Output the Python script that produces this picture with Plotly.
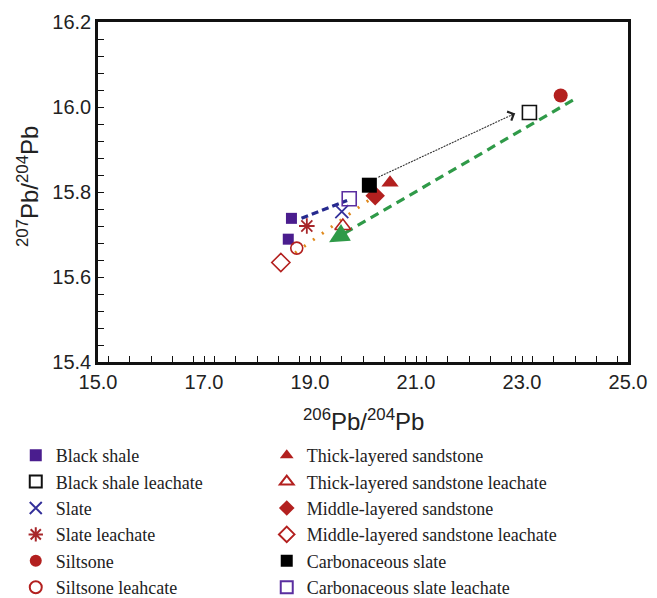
import plotly.graph_objects as go

# ---- data ----
series_names = [
    "Black shale", "Black shale leachate", "Slate", "Slate leachate",
    "Siltsone", "Siltsone leahcate",
    "Thick-layered sandstone", "Thick-layered sandstone leachate",
    "Middle-layered sandstone", "Middle-layered sandstone leachate",
    "Carbonaceous slate", "Carbonaceous slate leachate",
]
x_black_shale = [18.65, 18.59]
y_black_shale = [15.738, 15.689]
x_black_shale_leach = [23.14]
y_black_shale_leach = [15.987]
x_slate = [19.60]
y_slate = [15.754]
x_slate_leach = [18.94]
y_slate_leach = [15.720]
x_siltsone = [23.73]
y_siltsone = [16.027]
x_siltsone_leach = [18.75]
y_siltsone_leach = [15.668]
x_thick = [20.51]
y_thick = [15.822]
x_thick_leach = [19.62]
y_thick_leach = [15.720]
x_middle = [20.23]
y_middle = [15.791]
x_middle_leach = [18.45]
y_middle_leach = [15.634]
x_carb = [20.12]
y_carb = [15.816]
x_carb_leach = [19.74]
y_carb_leach = [15.784]

# trend arrows: (x_start, y_start) -> (x_end, y_end)
arrow_black = [(20.29, 15.835), (22.87, 15.985)]
arrow_green = [(23.96, 16.016), (19.36, 15.682)]
arrow_blue = [(18.84, 15.738), (19.70, 15.780)]
arrow_orange = [(20.10, 15.780), (18.62, 15.648)]

x_range = [15.0, 25.0]
y_range = [15.4, 16.2]
x_ticks = [15.0, 17.0, 19.0, 21.0, 23.0, 25.0]
y_ticks = [15.4, 15.6, 15.8, 16.0, 16.2]
x_title = "<sup>206</sup>Pb/<sup>204</sup>Pb"
y_title = "<sup>207</sup>Pb/<sup>204</sup>Pb"

# ---- styles ----
PURPLE = "#4a1d8e"
BLUE = "#34309a"
RED = "#b3201f"
DRED = "#a8262a"
styles = [
    dict(symbol="square", size=11, color=PURPLE, line=dict(width=0)),
    dict(symbol="square-open", size=14, color="#111111", line=dict(width=1.6, color="#111111")),
    dict(symbol="x-thin-open", size=13, color=BLUE, line=dict(width=1.8, color=BLUE)),
    dict(symbol="asterisk-open", size=13, color=DRED, line=dict(width=1.8, color=DRED)),
    dict(symbol="circle", size=14, color=RED, line=dict(width=0)),
    dict(symbol="circle-open", size=12, color=RED, line=dict(width=1.6, color=RED)),
    dict(symbol="triangle-up", size=15, color=RED, line=dict(width=0)),
    dict(symbol="triangle-up-open", size=14, color=RED, line=dict(width=1.6, color=RED)),
    dict(symbol="diamond", size=15, color=RED, line=dict(width=0)),
    dict(symbol="diamond-open", size=14, color=RED, line=dict(width=1.6, color=RED)),
    dict(symbol="square", size=15, color="#000000", line=dict(width=0)),
    dict(symbol="square-open", size=14, color="#5a2ea0", line=dict(width=1.6, color="#5a2ea0")),
]
xs = [x_black_shale, x_black_shale_leach, x_slate, x_slate_leach, x_siltsone, x_siltsone_leach,
      x_thick, x_thick_leach, x_middle, x_middle_leach, x_carb, x_carb_leach]
ys = [y_black_shale, y_black_shale_leach, y_slate, y_slate_leach, y_siltsone, y_siltsone_leach,
      y_thick, y_thick_leach, y_middle, y_middle_leach, y_carb, y_carb_leach]

fig = go.Figure()

# trend lines (drawn first, under markers)
def add_line(seg, color, width, dash):
    (x0, y0), (x1, y1) = seg
    fig.add_trace(go.Scatter(x=[x0, x1], y=[y0, y1], mode="lines",
                             line=dict(color=color, width=width, dash=dash),
                             showlegend=False, hoverinfo="skip"))

add_line(arrow_green, "#2f9a48", 3.2, "9px,6px")
add_line(arrow_black, "#333333", 1.1, "2px,1px")
add_line(arrow_orange, "#e08a1e", 3, "2px,9px")
add_line(arrow_blue, "#262a8e", 3.2, "7px,4px")

for i, name in enumerate(series_names):
    st = styles[i]
    fig.add_trace(go.Scatter(
        x=xs[i], y=ys[i], mode="markers", name=name,
        marker=dict(symbol=st["symbol"], size=st["size"], color=st["color"], line=st["line"]),
        legend="legend" if i < 6 else "legend2",
        legendgroup=name,
    ))

# arrow heads
def add_head(seg, color, head, size, width):
    (x0, y0), (x1, y1) = seg
    fx = x1 - (x1 - x0) * 0.04
    fy = y1 - (y1 - y0) * 0.04
    fig.add_annotation(x=x1, y=y1, ax=fx, ay=fy, xref="x", yref="y", axref="x", ayref="y",
                       text="", showarrow=True, arrowhead=head, arrowsize=size,
                       arrowwidth=width, arrowcolor=color)

add_head(arrow_black, "#222222", 4, 1.6, 1.2)
add_head(arrow_green, "#2f9a48", 2, 1.3, 3)
add_head(arrow_blue, "#262a8e", 4, 1.0, 2.2)
add_head(arrow_orange, "#e08a1e", 4, 1.0, 2.6)

axis_font = dict(family="Liberation Sans, Arial, sans-serif", size=20, color="#222222")
title_font = dict(family="Liberation Sans, Arial, sans-serif", size=24, color="#222222")

fig.update_xaxes(
    range=x_range, tickvals=x_ticks, tickformat=".1f", showgrid=False, zeroline=False,
    showline=True, linewidth=2.5, linecolor="#111111", mirror=True,
    ticks="inside", ticklen=6, tickwidth=1.3, tickcolor="#111111",
    minor=dict(dtick=0.4, ticks="inside", ticklen=6, tickwidth=1.3, tickcolor="#111111", showgrid=False),
    tickfont=axis_font,
)
fig.update_yaxes(
    range=y_range, tickvals=y_ticks, tickformat=".1f", showgrid=False, zeroline=False,
    showline=True, linewidth=2.5, linecolor="#111111", mirror=True,
    ticks="inside", ticklen=6, tickwidth=1.3, tickcolor="#111111",
    minor=dict(dtick=0.04, ticks="inside", ticklen=6, tickwidth=1.3, tickcolor="#111111", showgrid=False),
    tickfont=axis_font,
)

# axis titles (placed in plot-area paper coordinates)
fig.add_annotation(x=(363 - 98) / 530, y=(362 - 420) / 340, xref="paper", yref="paper", text=x_title,
                   showarrow=False, font=title_font, xanchor="center", yanchor="middle")
fig.add_annotation(x=(28 - 98) / 530, y=(362 - 187) / 340, xref="paper", yref="paper", text=y_title,
                   showarrow=False, font=title_font, textangle=-90, xanchor="center", yanchor="middle")

legend_font = dict(family="Liberation Serif, Times New Roman, serif", size=18, color="#222222")
fig.update_layout(
    width=657, height=598,
    margin=dict(l=98, r=29, t=22, b=236, autoexpand=False),
    plot_bgcolor="white", paper_bgcolor="white",
    legend=dict(x=0.024, y=1 - 437 / 598, xref="container", yref="container",
                xanchor="left", yanchor="top", font=legend_font, borderwidth=0,
                bgcolor="rgba(0,0,0,0)", traceorder="grouped", tracegroupgap=0,
                itemsizing="constant"),
    legend2=dict(x=0.406, y=1 - 437 / 598, xref="container", yref="container",
                 xanchor="left", yanchor="top", font=legend_font, borderwidth=0,
                 bgcolor="rgba(0,0,0,0)", traceorder="grouped", tracegroupgap=0,
                 itemsizing="constant"),
)

fig.write_html("out.html")
